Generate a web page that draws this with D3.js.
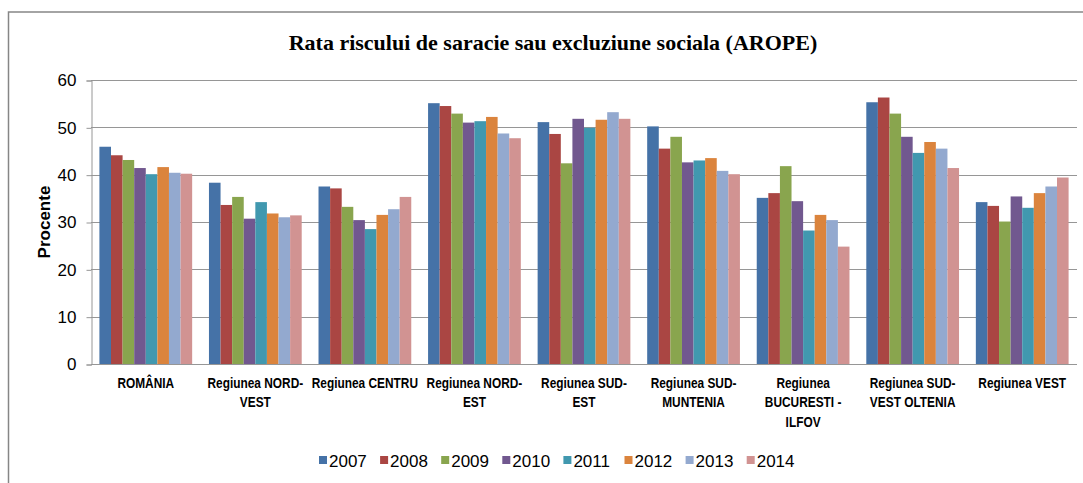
<!DOCTYPE html>
<html>
<head>
<meta charset="utf-8">
<script src="https://cdn.jsdelivr.net/npm/d3@7"></script>
<style>
  body { margin: 0; background: #fff; }
  svg { display: block; }
</style>
</head>
<body>
<div id="chart"></div>
<script>
////////////////////////////////////////////////////////////////
// Data

let regions = ["ROMÂNIA", "Regiunea NORD-\nVEST", "Regiunea CENTRU", "Regiunea NORD-\nEST",
  "Regiunea SUD-\nEST", "Regiunea SUD-\nMUNTENIA", "Regiunea\nBUCURESTI -\nILFOV",
  "Regiunea SUD-\nVEST OLTENIA", "Regiunea VEST"]

let years = ["2007", "2008", "2009", "2010", "2011", "2012", "2013", "2014"]

// one value per region, one array per year
let v2007 = [45.9, 38.3, 37.5, 55.1, 51.1, 50.2, 35.1, 55.3, 34.2]
let v2008 = [44.1, 33.6, 37.1, 54.5, 48.6, 45.5, 36.1, 56.3, 33.4]
let v2009 = [43.1, 35.3, 33.2, 52.9, 42.4, 48.0, 41.8, 52.9, 30.1]
let v2010 = [41.4, 30.7, 30.4, 51.0, 51.8, 42.6, 34.4, 48.0, 35.4]
let v2011 = [40.1, 34.2, 28.5, 51.3, 49.9, 43.0, 28.2, 44.6, 33.0]
let v2012 = [41.6, 31.8, 31.5, 52.2, 51.6, 43.5, 31.5, 46.9, 36.1]
let v2013 = [40.4, 31.0, 32.7, 48.7, 53.2, 40.8, 30.4, 45.5, 37.5]
let v2014 = [40.2, 31.4, 35.3, 47.7, 51.8, 40.1, 24.8, 41.4, 39.4]

let yTicks = [0, 10, 20, 30, 40, 50, 60]

let colors = ["#4572A7", "#AA4643", "#89A54E", "#71588F", "#4198AF", "#DB843D", "#93A9CF", "#D19392"]

let series = [v2007, v2008, v2009, v2010, v2011, v2012, v2013, v2014]

////////////////////////////////////////////////////////////////
// Chart

let W = 1083, H = 483
let pLeft = 91, pRight = 1077, pTop = 80, pBottom = 364

let svg = d3.select("#chart").append("svg")
  .attr("width", W)
  .attr("height", H)

// outer frame
svg.append("rect")
  .attr("x", 8.5).attr("y", 12)
  .attr("width", 1200).attr("height", 600)
  .attr("fill", "none")
  .attr("stroke", "#868686")
  .attr("stroke-width", 1.5)

// title
svg.append("text")
  .attr("x", 553).attr("y", 50)
  .attr("text-anchor", "middle")
  .attr("font-family", "'Liberation Serif', 'Times New Roman', serif")
  .attr("font-weight", "bold")
  .attr("font-size", 22)
  .text("Rata riscului de saracie sau excluziune sociala (AROPE)")

let y = d3.scaleLinear().domain([0, 60]).range([pBottom, pTop])

let x0 = d3.scaleBand().domain(regions).range([pLeft, pRight]).padding(0)
let x1 = d3.scaleBand().domain(years).range([0, x0.bandwidth()])
  .paddingInner(0).paddingOuter(0.725)

// gridlines
svg.append("g")
  .selectAll("line")
  .data(yTicks.filter(d => d > 0))
  .enter()
  .append("line")
  .attr("x1", pLeft).attr("x2", pRight)
  .attr("y1", d => Math.round(y(d)) + 0.5)
  .attr("y2", d => Math.round(y(d)) + 0.5)
  .attr("stroke", "#969696")
  .attr("stroke-width", 1)

// y axis
let yAxis = svg.append("g")
  .attr("transform", `translate(${pLeft + 0.5},0.5)`)
  .call(d3.axisLeft(y).tickValues(yTicks).tickSize(5).tickPadding(10))
yAxis.select(".domain").attr("stroke", "#969696")
yAxis.selectAll(".tick line").attr("stroke", "#969696")
yAxis.selectAll("text")
  .attr("font-family", "'Liberation Sans', Arial, sans-serif")
  .attr("font-size", 17)
  .attr("fill", "#000")

// bars
let groups = svg.append("g")
  .selectAll("g")
  .data(regions)
  .enter()
  .append("g")
  .attr("transform", d => `translate(${x0(d)},0)`)

groups.selectAll("rect")
  .data((d, i) => years.map((yr, j) => ({ year: yr, value: series[j][i], c: colors[j] })))
  .enter()
  .append("rect")
  .attr("x", d => x1(d.year))
  .attr("y", d => y(d.value))
  .attr("width", x1.bandwidth())
  .attr("height", d => y(0) - y(d.value))
  .attr("fill", d => d.c)

// x axis line
svg.append("line")
  .attr("x1", pLeft).attr("x2", pRight)
  .attr("y1", pBottom + 0.5).attr("y2", pBottom + 0.5)
  .attr("stroke", "#969696")

// category labels (no narrow font installed, so squeeze horizontally)
let labels = svg.append("g")
  .selectAll("g")
  .data(regions)
  .enter()
  .append("g")
  .attr("transform", d => `translate(${x0(d) + x0.bandwidth() / 2},388) scale(0.82,1)`)
  .append("text")
  .attr("text-anchor", "middle")
  .attr("font-family", "'Liberation Sans', Arial, sans-serif")
  .attr("font-weight", "bold")
  .attr("font-size", 14.5)

labels.selectAll("tspan")
  .data(d => d.split("\n"))
  .enter()
  .append("tspan")
  .attr("x", 0)
  .attr("dy", (d, i) => i == 0 ? 0 : 19.5)
  .text(d => d)

// y axis title
svg.append("text")
  .attr("transform", "translate(50,222) rotate(-90)")
  .attr("text-anchor", "middle")
  .attr("font-family", "'Liberation Sans', Arial, sans-serif")
  .attr("font-weight", "bold")
  .attr("font-size", 17)
  .text("Procente")

// legend
let legend = svg.append("g")
  .selectAll("g")
  .data(years)
  .enter()
  .append("g")
  .attr("transform", (d, i) => `translate(${319 + i * 61.1},460)`)

legend.append("rect")
  .attr("x", 0).attr("y", -4)
  .attr("width", 8).attr("height", 8)
  .attr("fill", (d, i) => colors[i])

legend.append("text")
  .attr("x", 10).attr("y", 6.5)
  .attr("font-family", "'Liberation Sans', Arial, sans-serif")
  .attr("font-size", 17)
  .text(d => d)
</script>
</body>
</html>
